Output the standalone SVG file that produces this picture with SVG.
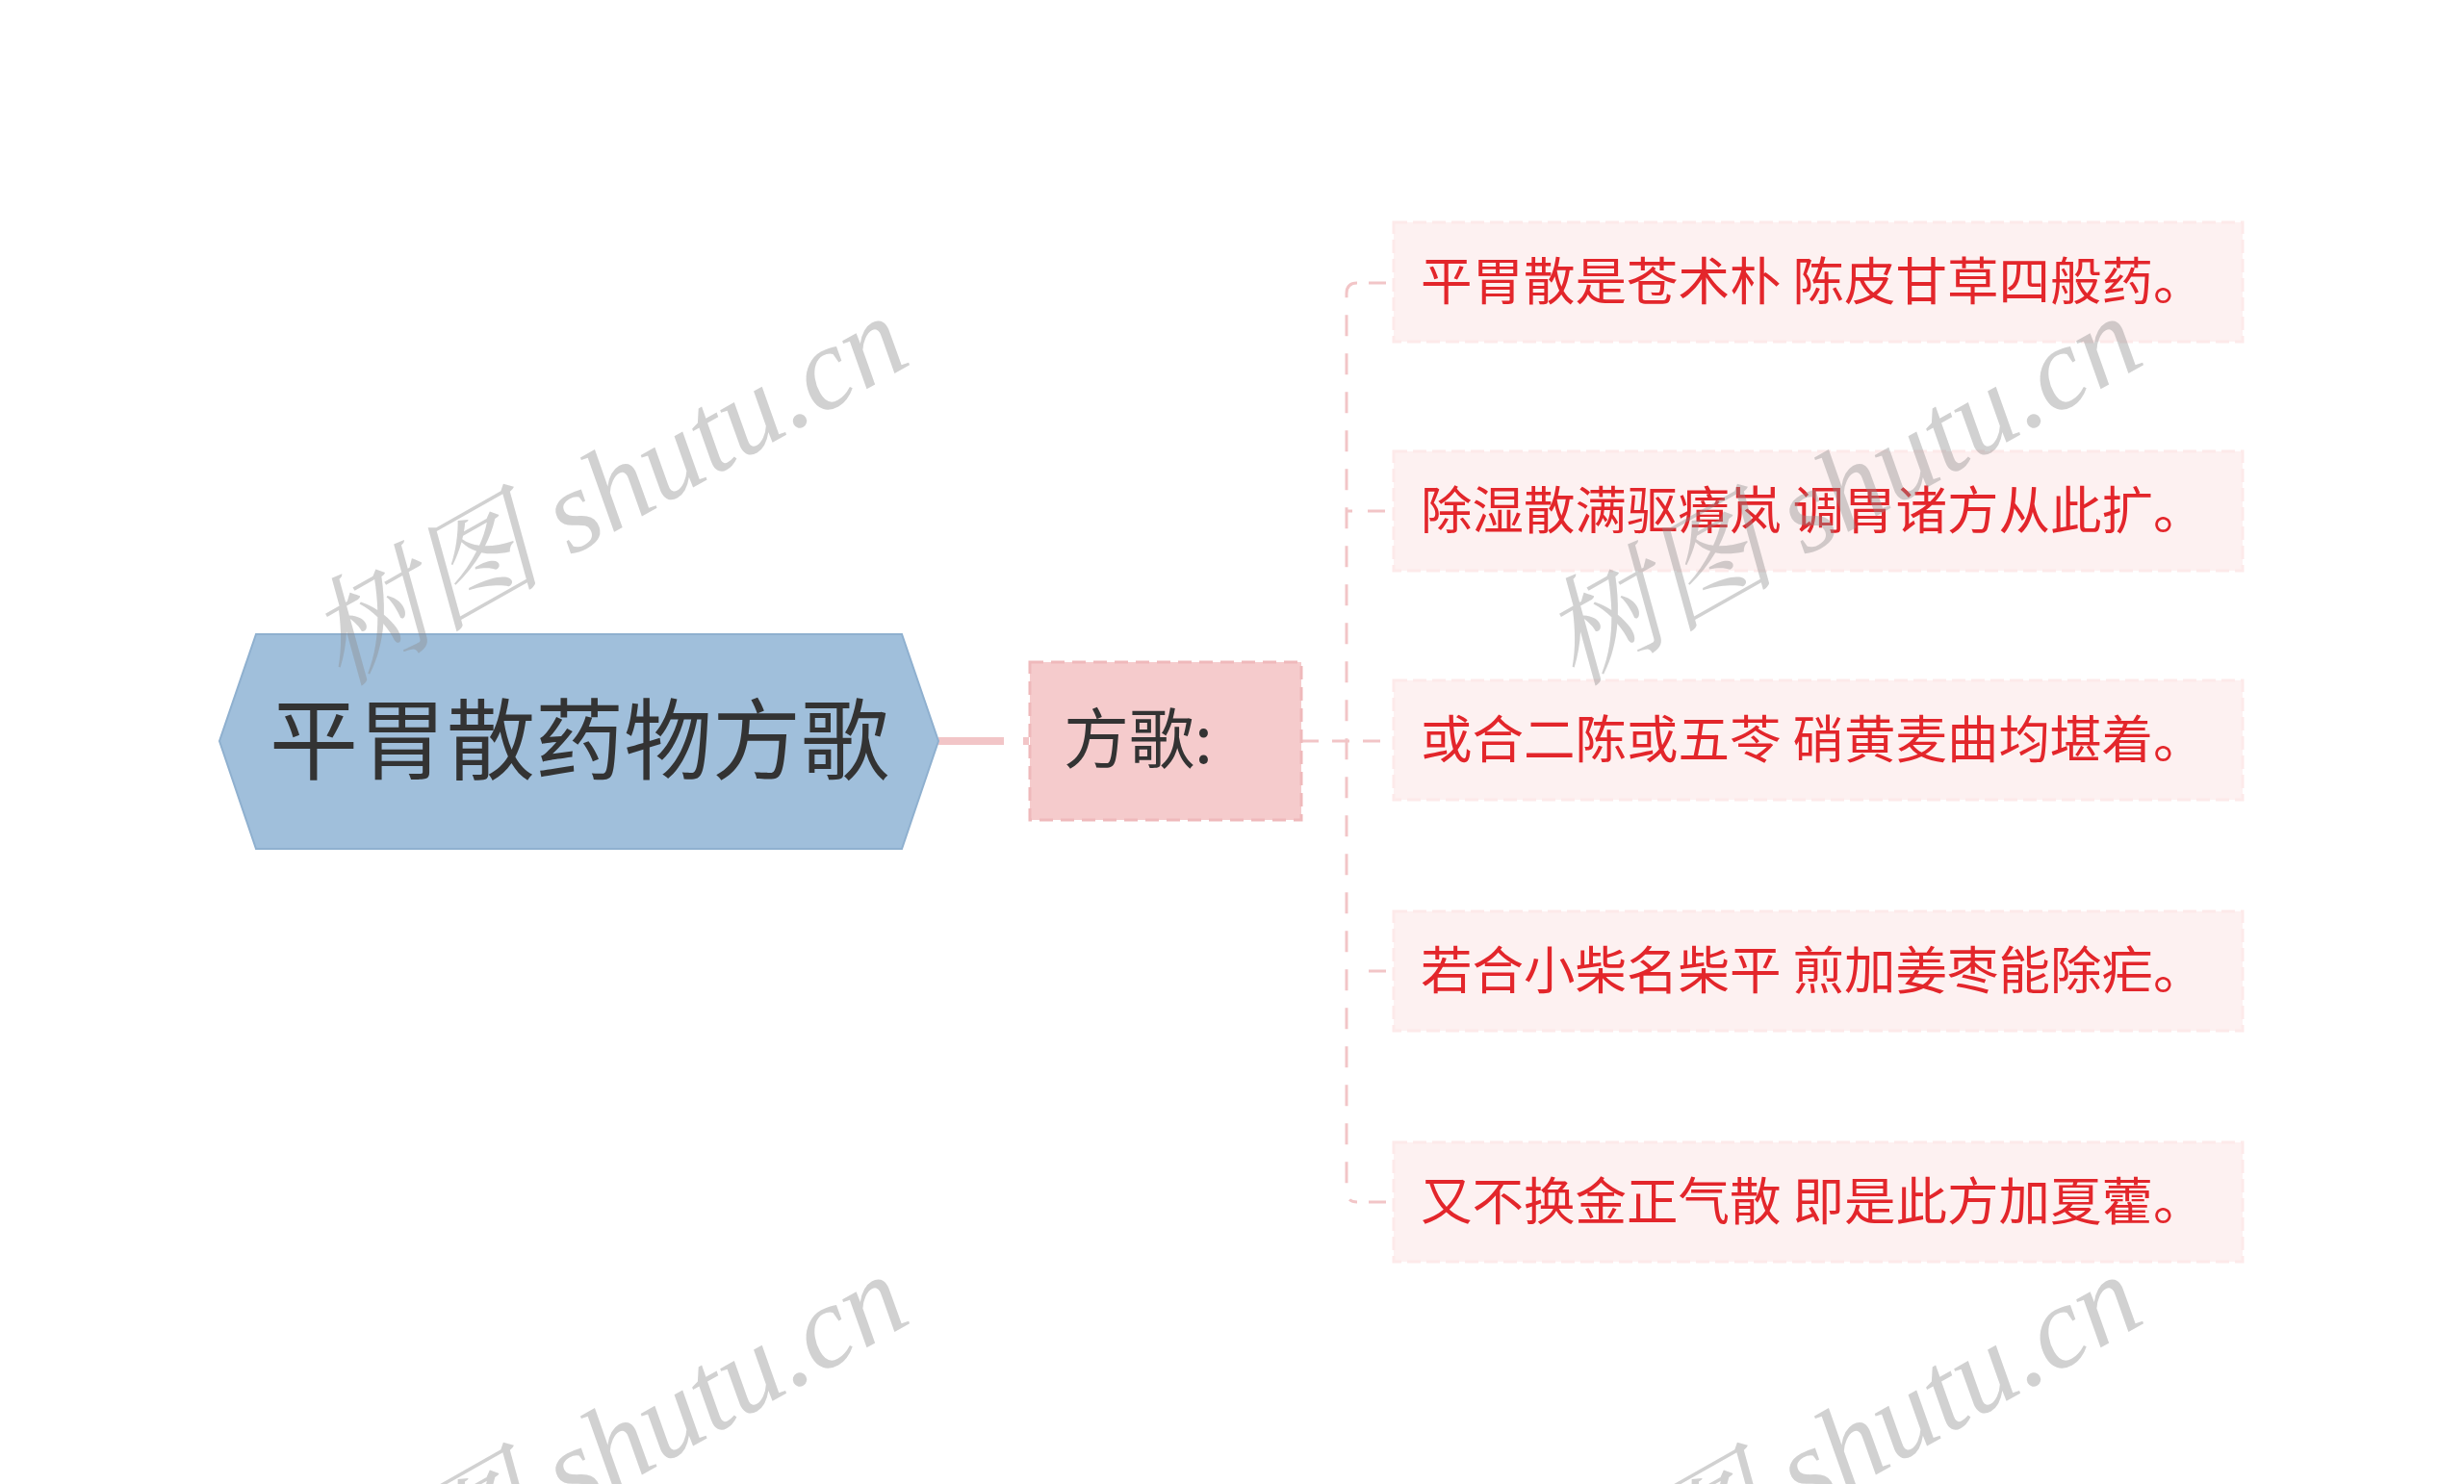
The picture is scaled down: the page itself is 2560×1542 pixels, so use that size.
<svg xmlns="http://www.w3.org/2000/svg" width="2560" height="1542" viewBox="0 0 2560 1542">
<style>
.cjk{font-family:"Noto Sans CJK SC","Microsoft YaHei",sans-serif}
.leaf rect{fill:#fdf1f1;stroke:#fdeaea;stroke-width:3;stroke-dasharray:14 6}
.leaf text{fill:#e3262b;font-size:53.5px}
.wm{font-family:"Liberation Serif","Noto Serif CJK SC","Noto Sans CJK SC",serif;font-style:italic;font-size:122px;fill:#8c8c8c;fill-opacity:0.4}
</style>
<rect width="2560" height="1542" fill="#ffffff"/>
<g id="connectors" fill="none" stroke="#f2c5c7">
<path d="M975 770 H1069" stroke-width="8" stroke-dasharray="68 20"/>
<path d="M1352 770 H1448" stroke-width="3" stroke-dasharray="18 14"/>
<path d="M1410 294 Q1399 294 1399 305 V1238 Q1399 1249 1410 1249" stroke-width="3" stroke-dasharray="22 18"/>
<path d="M1422 294 H1448 M1422 1009 H1448 M1422 1249 H1448" stroke-width="3" stroke-dasharray="18 14"/>
<path d="M1399 531 H1448" stroke-width="3" stroke-dasharray="6 16 18 20"/>
</g>
<g id="root">
<polygon points="228,770 266,659 937,659 975,770 937,882 266,882" fill="#a0bfdb" stroke="#8fb0cf" stroke-width="2"/>
<text class="cjk" x="602" y="803" font-size="92" fill="#333333" text-anchor="middle">平胃散药物方歌</text>
</g>
<g id="fangge">
<rect x="1070" y="688" width="282" height="164" fill="#f5cbcc" stroke="#efb9bb" stroke-width="3" stroke-dasharray="14 8"/>
<text class="cjk" x="1105" y="793" font-size="68" fill="#333333">方歌:</text>
</g>
<g id="leaf1" class="leaf"><rect x="1448" y="231" width="882" height="124"/><text class="cjk" x="1476" y="312">平胃散是苍术朴 陈皮甘草四般药。</text></g>
<g id="leaf2" class="leaf"><rect x="1448" y="469" width="882" height="124"/><text class="cjk" x="1476" y="550">除湿散满驱瘴岚 调胃诸方从此扩。</text></g>
<g id="leaf3" class="leaf"><rect x="1448" y="707" width="882" height="124"/><text class="cjk" x="1476" y="788">或合二陈或五苓 硝黄麦曲均堪着。</text></g>
<g id="leaf4" class="leaf"><rect x="1448" y="947" width="882" height="124"/><text class="cjk" x="1476" y="1028">若合小柴名柴平 煎加姜枣能除疟。</text></g>
<g id="leaf5" class="leaf"><rect x="1448" y="1187" width="882" height="124"/><text class="cjk" x="1476" y="1268">又不换金正气散 即是此方加夏藿。</text></g>
<g id="watermarks">
<text class="wm" x="652" y="545" text-anchor="middle" transform="rotate(-29.5 652 545)">树图 shutu.cn</text>
<text class="wm" x="1934" y="545" text-anchor="middle" transform="rotate(-29.5 1934 545)">树图 shutu.cn</text>
<text class="wm" x="652" y="1541" text-anchor="middle" transform="rotate(-29.5 652 1541)">树图 shutu.cn</text>
<text class="wm" x="1934" y="1541" text-anchor="middle" transform="rotate(-29.5 1934 1541)">树图 shutu.cn</text>
</g>
</svg>
